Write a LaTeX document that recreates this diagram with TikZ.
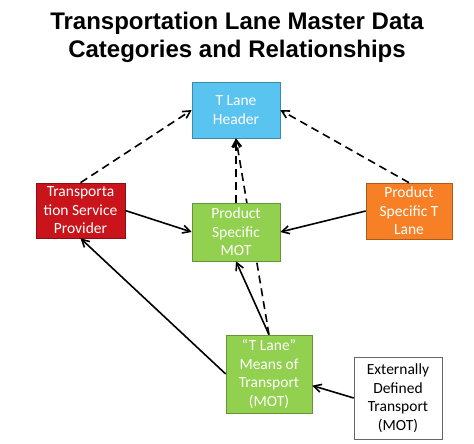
\documentclass[tikz,border=0pt]{standalone}
\usepackage{fontspec}
\usepackage{tikz}
\usetikzlibrary{
	positioning,    % posizionamento dei nodi
	arrows.meta,    % punte di freccia
	shadows         % ombra delle caselle
}
\newfontfamily\fonttitolo{Liberation Sans}
\newfontfamily\fontcasella{Carlito}
\definecolor{bluHeader}{RGB}{90,196,240}
\definecolor{rossoTSP}{RGB}{200,20,26}
\definecolor{verdeMOT}{RGB}{146,208,80}
\definecolor{aranciaTL}{RGB}{247,128,38}

\begin{document}
\begin{tikzpicture}[
			x=1pt, y=-1pt,
			% Stile comune delle caselle
			casella/.style={
				draw, line width=0.6pt, align=center, text=white,
				font=\fontcasella\fontsize{15.5}{18.5}\selectfont,
				inner sep=1pt,
				drop shadow={shadow xshift=1.2pt, shadow yshift=-1.2pt, opacity=0.35}
			},
			% Frecce
			freccia/.style={-{Straight Barb[length=2.6mm, width=2.8mm]}, line width=1.6pt},
			tratteggio/.style={freccia, dash pattern=on 8pt off 5pt}
			]
			
			\useasboundingbox (0,0) rectangle (474,444);
			
			% --- Titolo ---
			\node[anchor=base, font=\fonttitolo\bfseries\fontsize{24}{28}\selectfont] (titolo1) at (237,30) {Transportation Lane Master Data};
			\node[anchor=base, font=\fonttitolo\bfseries\fontsize{24}{28}\selectfont] (titolo2) at (237,58) {Categories and Relationships};
			
			% --- Caselle ---
			\node[casella, fill=bluHeader, draw=bluHeader!70!black, minimum width=88pt, minimum height=56pt] (header) at (236,110) {T Lane\\Header};
			\node[casella, fill=rossoTSP, draw=rossoTSP!70!black, minimum width=89pt, minimum height=55pt] (tsp) at (80.5,210.5) {Transporta\\tion Service\\Provider};
			\node[casella, fill=aranciaTL, draw=aranciaTL!70!black, minimum width=86pt, minimum height=56pt] (pstl) at (409,211) {Product\\Specific T\\Lane};
			\node[casella, fill=verdeMOT, draw=verdeMOT!70!black, minimum width=86pt, minimum height=78pt] (tlmot) at (269,374) {\textquotedblleft T Lane\textquotedblright\\Means of\\Transport\\(MOT)};
			\node[casella, fill=white, draw=black!60, text=black, minimum width=88pt, minimum height=82pt] (ext) at (398,398) {Externally\\Defined\\Transport\\(MOT)};
			
			% --- Linea tratteggiata dietro la casella Product Specific MOT ---
			\draw[tratteggio] (tlmot.north) -- (header.south);
			
			\node[casella, fill=verdeMOT, draw=verdeMOT!70!black, minimum width=88pt, minimum height=58pt] (psmot) at (236,232) {Product\\Specific\\MOT};
			
			% --- Relazioni tratteggiate ---
			\draw[tratteggio] (tsp.north) -- (header.west);
			\draw[tratteggio] (pstl.north) -- (header.east);
			\draw[tratteggio] (psmot.north) -- (header.south);
			
			% --- Relazioni continue ---
			\draw[freccia] (tsp.east) -- (psmot.west);
			\draw[freccia] (pstl.west) -- (psmot.east);
			\draw[freccia] (tlmot.north) -- (psmot.south);
			\draw[freccia] (tlmot.west) -- (tsp.south);
			\draw[freccia] (ext.west) -- (tlmot.-15);
			
		\end{tikzpicture}
\end{document}
